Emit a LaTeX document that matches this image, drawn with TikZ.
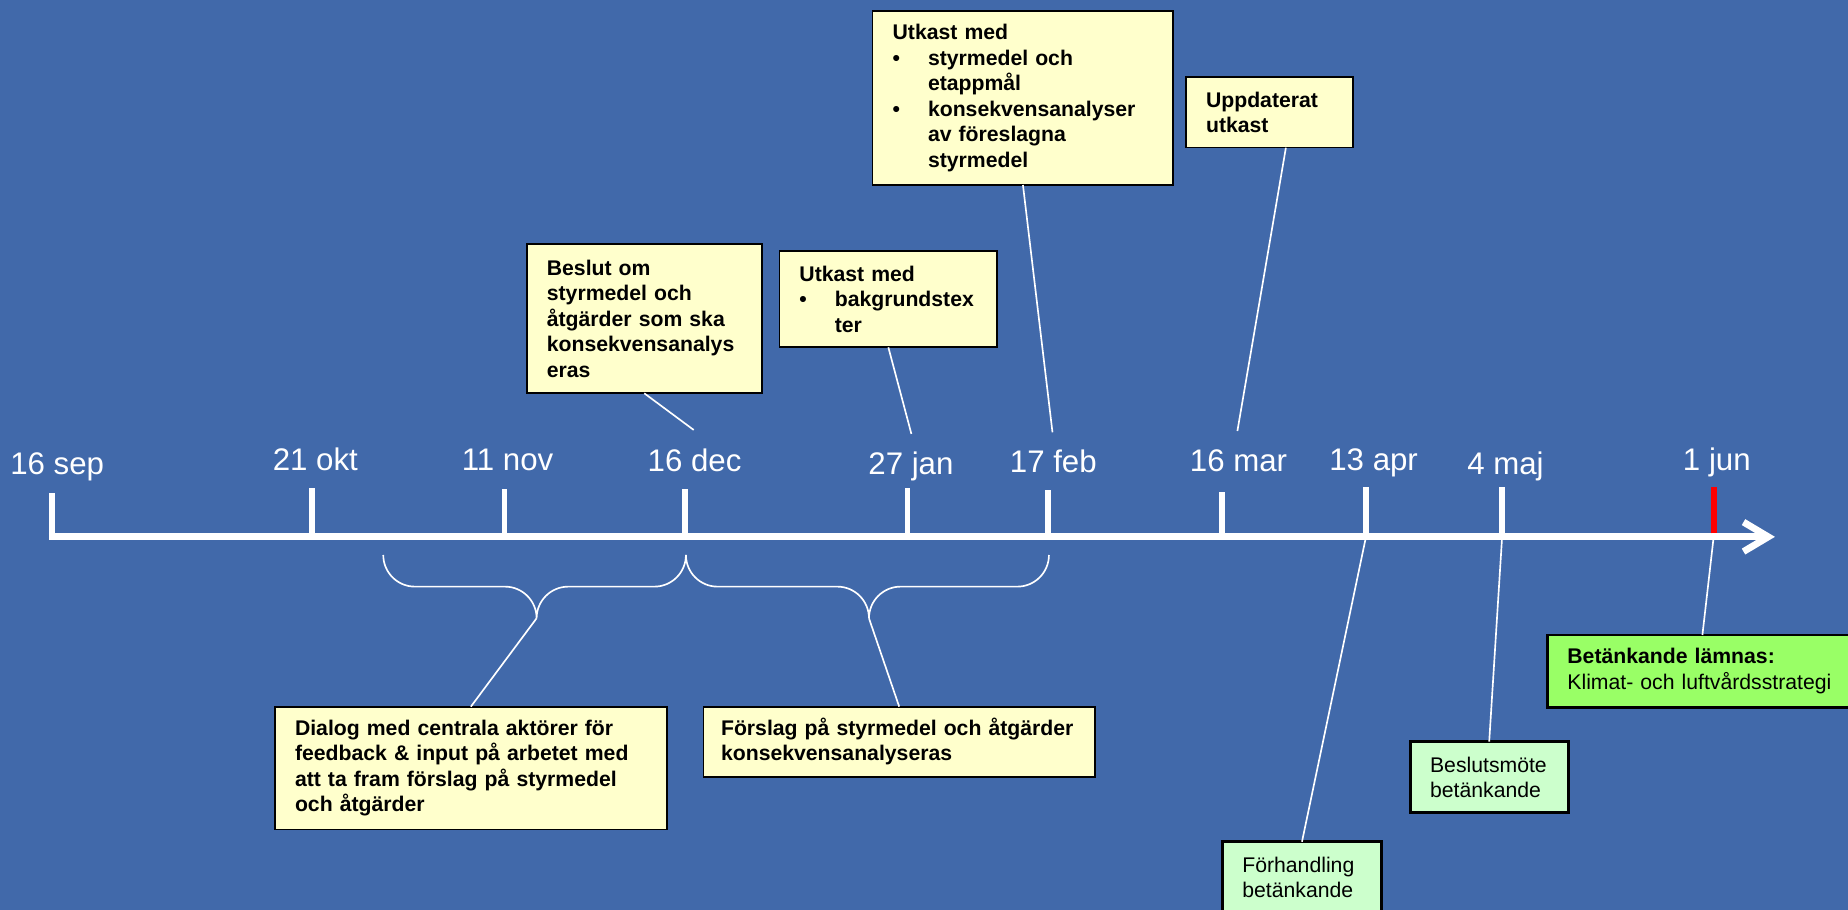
\documentclass[tikz,border=0pt]{standalone}
\usepackage{fontspec}
\setmainfont{Liberation Sans}
\usepackage{tikz}
\usetikzlibrary{arrows.meta}
\definecolor{bgblue}{RGB}{65,105,170}
\definecolor{paleyellow}{RGB}{255,255,204}
\definecolor{palegreen}{RGB}{204,255,204}
\definecolor{brightgreen}{RGB}{153,255,102}
\hyphenpenalty=10000
\tikzstyle{yellowbox} = [draw=black, line width=0.8pt, fill=paleyellow,
    anchor=north west, outer sep=0pt, inner xsep=0.34cm, inner ysep=0pt,
    align=left, font=\fontsize{10.24}{12.29}\selectfont\bfseries]
\tikzstyle{greenbox} = [yellowbox, line width=1.4pt, fill=palegreen,
    font=\fontsize{10.24}{12.29}\selectfont]
\tikzstyle{datelabel} = [anchor=base, text=white, inner sep=0pt,
    font=\fontsize{15.08}{18}\selectfont]
\tikzstyle{tickline} = [white, line width=2.8pt]
\tikzstyle{leader} = [white, line width=0.8pt]
\newcommand{\itembul}{\makebox[0.6cm][l]{\textbullet}}

\begin{document}
\begin{tikzpicture}
        \useasboundingbox (0, 0) rectangle (31.36, 15.44);
        \fill[bgblue] (0, 0) rectangle (31.36, 15.44);

        \node[yellowbox, name=beslut, text width=3.306cm, minimum height=2.528cm] at (8.94, 11.294)
            {Beslut om\\styrmedel och\\åtgärder som ska\\konsekvensanalys\\eras};
        \node[yellowbox, name=bakgrund, text width=3.018cm, minimum height=1.64cm] at (13.226, 11.186)
            {Utkast med\\\itembul bakgrundstex\\\hspace*{0.6cm}ter};
        \node[yellowbox, name=utkast, text width=4.422cm, minimum height=2.954cm] at (14.808, 15.254)
            {Utkast med\\\itembul styrmedel och\\\hspace*{0.6cm}etappmål\\\itembul konsekvensanalyser\\\hspace*{0.6cm}av föreslagna\\\hspace*{0.6cm}styrmedel};
        \node[yellowbox, name=uppdaterat, text width=2.154cm, minimum height=1.194cm] at (20.126, 14.128)
            {Uppdaterat\\utkast};
        \node[yellowbox, name=dialog, text width=5.968cm, minimum height=2.082cm] at (4.666, 3.448)
            {Dialog med centrala aktörer för\\feedback \& input på arbetet med\\att ta fram förslag på styrmedel\\och åtgärder};
        \node[yellowbox, name=forslag, inner xsep=0.3cm, text width=6.046cm, minimum height=1.188cm] at (11.936, 3.448)
            {Förslag på styrmedel och åtgärder\\konsekvensanalyseras};
        \node[greenbox, name=forhandling, text width=2.024cm, minimum height=1.204cm] at (20.742, 1.156)
            {Förhandling\\betänkande};
        \node[greenbox, name=beslutsmote, text width=2.006cm, minimum height=1.204cm] at (23.928, 2.854)
            {Beslutsmöte\\betänkande};
        \node[greenbox, fill=brightgreen, name=betankande, text width=4.582cm, minimum height=1.228cm] at (26.258, 4.664)
            {\textbf{Betänkande lämnas:}\\Klimat- och luftvårdsstrategi};

        \coordinate (sep) at (0.876, 6.33);
        \coordinate (okt) at (5.30, 6.33);
        \coordinate (nov) at (8.56, 6.33);
        \coordinate (dec) at (11.63, 6.33);
        \coordinate (jan) at (15.40, 6.33);
        \coordinate (feb) at (17.78, 6.33);
        \coordinate (mar) at (20.73, 6.33);
        \coordinate (apr) at (23.18, 6.33);
        \coordinate (maj) at (25.49, 6.33);
        \coordinate (jun) at (29.08, 6.33);

        \coordinate (dec_end) at (11.772, 8.144);
        \coordinate (jan_end) at (15.466, 8.076);
        \coordinate (feb_end) at (17.86, 8.104);
        \coordinate (mar_end) at (20.998, 8.126);

        \draw[leader] (6.504, 6.022) arc (180:270:0.537) -- (8.569, 5.485) arc (90:0:0.537) coordinate (dialog_tip)
            arc (180:90:0.537) -- (11.103, 5.485) arc (270:360:0.537);
        \draw[leader] (11.64, 6.022) arc (180:270:0.537) -- (14.209, 5.485) arc (90:0:0.537) coordinate (forslag_tip)
            arc (180:90:0.537) -- (17.263, 5.485) arc (270:360:0.537);

        \draw[leader] (beslut.south) -- (dec_end);
        \draw[leader] (bakgrund.south) -- (jan_end);
        \draw[leader] (utkast.south) -- (feb_end);
        \draw[leader] ([xshift=0.278cm]uppdaterat.south) -- (mar_end);
        \draw[leader] (dialog_tip) -- (dialog.north);
        \draw[leader] (forslag_tip) -- (forslag.north);
        \draw[leader] (apr) -- (forhandling.north);
        \draw[leader] (maj) -- (beslutsmote.north);
        \draw[leader] (jun) -- (betankande.north);

        \draw[white, line width=3.3pt, -{Straight Barb[length=0.42cm, width=0.5cm]}] (0.83, 6.33) -- (30.12, 6.33);
        \draw[tickline] (sep) -- ++(0, 0.75);
        \draw[tickline] (okt) -- ++(0, 0.83);
        \draw[tickline] (nov) -- ++(0, 0.81);
        \draw[tickline] (dec) -- ++(0, 0.81);
        \draw[tickline] (jan) -- ++(0, 0.83);
        \draw[tickline] (feb) -- ++(0, 0.79);
        \draw[tickline] (mar) -- ++(0, 0.76);
        \draw[tickline] (apr) -- ++(0, 0.85);
        \draw[tickline] (maj) -- ++(0, 0.85);
        \draw[tickline, red] ([yshift=0.06cm]jun) -- ++(0, 0.79);

        \node[datelabel, name=sep_label] at (0.97, 7.38) {16 sep};
        \node[datelabel, name=okt_label] at (5.352, 7.464) {21 okt};
        \node[datelabel, name=nov_label] at (8.614, 7.452) {11 nov};
        \node[datelabel, name=dec_label] at (11.786, 7.436) {16 dec};
        \node[datelabel, name=jan_label] at (15.458, 7.38) {27 jan};
        \node[datelabel, name=feb_label] at (17.874, 7.42) {17 feb};
        \node[datelabel, name=mar_label] at (21.018, 7.436) {16 mar};
        \node[datelabel, name=apr_label] at (23.31, 7.452) {13 apr};
        \node[datelabel, name=maj_label] at (25.548, 7.38) {4 maj};
        \node[datelabel, name=jun_label] at (29.134, 7.464) {1 jun};
    \end{tikzpicture}
\end{document}
